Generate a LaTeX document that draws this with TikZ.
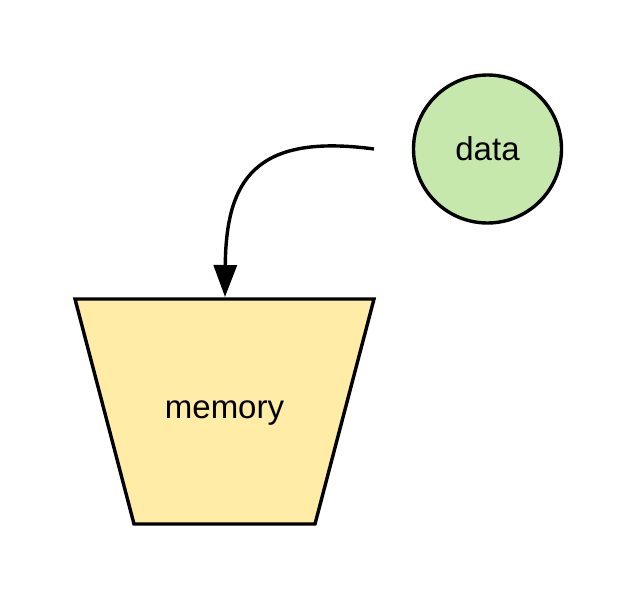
\documentclass[tikz,border=0pt]{standalone}
\usepackage{fontspec}
\setmainfont{Liberation Sans}
\usetikzlibrary{arrows.meta}
\definecolor{datagreen}{HTML}{C7E8AC}
\definecolor{memyellow}{HTML}{FFECA6}
\begin{document}
\begin{tikzpicture}[x=1pt,y=-1pt,
  lbl/.style={font=\fontsize{33}{38}\selectfont},
  outline/.style={draw=black, line width=3.4pt},
  datashape/.style={circle, minimum size=148pt, inner sep=0pt,
    outline, fill=datagreen, lbl},
  flow/.style={line width=3.4pt, -{Triangle[length=32pt,width=23pt]}}]
\useasboundingbox (0,0) rectangle (638,600);
\coordinate (mtl) at (75,299);
\coordinate (mtr) at (374,299);
\coordinate (mbr) at (315,524);
\coordinate (mbl) at (134,524);
\draw[outline, fill=memyellow, line join=miter] (mtl) -- (mtr) -- (mbr) -- (mbl) -- cycle;
\node[lbl] (mem) at (224.5,413) {memory};
\node[datashape] (data) at (487.5,149) {data};
\coordinate (start) at (374,149);
\coordinate (tip) at (225,297);
\draw[flow] (start) .. controls (255,133) and (226,180) .. (tip);
\end{tikzpicture}
\end{document}
